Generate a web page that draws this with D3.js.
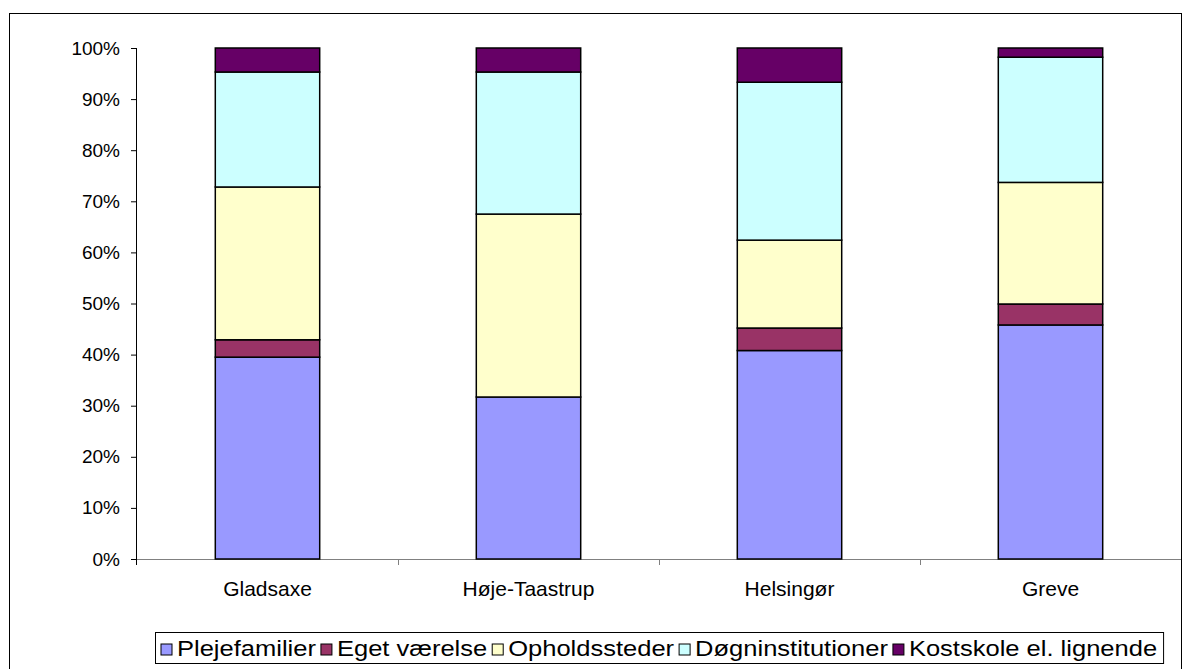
<!DOCTYPE html>
<html><head><meta charset="utf-8">
<script src="https://cdn.jsdelivr.net/npm/d3@7"></script>
<style>body{margin:0;background:#fff}svg{display:block}text{font-family:"Liberation Sans",Arial,sans-serif;fill:#000}</style>
</head><body><svg id="c" width="1184" height="669"></svg>
<script>
const categories = ["Gladsaxe","Høje-Taastrup","Helsingør","Greve"];
const seriesNames = ["Plejefamilier","Eget værelse","Opholdssteder","Døgninstitutioner","Kostskole el. lignende"];
const plejefamilier = [0.395,0.317,0.408,0.458];
const egetVaerelse = [0.034,0.000,0.044,0.041];
const opholdssteder = [0.299,0.358,0.172,0.238];
const doegninstitutioner = [0.225,0.278,0.309,0.245];
const kostskole = [0.047,0.047,0.067,0.018];
const seriesColors = ["#9999FF","#993366","#FFFFCC","#CCFFFF","#660066"];
const yTicks = [0,0.1,0.2,0.3,0.4,0.5,0.6,0.7,0.8,0.9,1.0];

const svg = d3.select("#c");
svg.append("rect").attr("x",9.5).attr("y",13.5).attr("width",1172).attr("height",700)
  .attr("fill","#fff").attr("stroke","#000").attr("stroke-width",1);

const x0=137, x1=1181, yTop=48, yBot=559;
const x = d3.scaleBand().domain(categories).range([x0,x1]).paddingInner(0.6).paddingOuter(0.3);
const y = d3.scaleLinear().domain([0,1]).range([yBot,yTop]);

const values = [plejefamilier, egetVaerelse, opholdssteder, doegninstitutioner, kostskole];
const rows = categories.map((c,i)=>{const r={cat:c}; seriesNames.forEach((s,j)=>r[s]=values[j][i]); return r;});
const stack = d3.stack().keys(seriesNames)(rows);

// y axis
const yAxis = d3.axisLeft(y).tickValues(yTicks).tickFormat(d3.format(".0%")).tickSize(6).tickPadding(11);
const ga = svg.append("g").attr("transform",`translate(${x0},0)`).call(yAxis);
ga.select(".domain").attr("stroke","#000").attr("d",`M-0.5,${yTop}V${yBot+6}`);
ga.selectAll(".tick line").attr("stroke","#000");
ga.selectAll("text").style("font-size","19px").attr("fill","#000");

// x axis
const xAxis = d3.axisBottom(x).tickSize(0).tickPadding(22);
const gx = svg.append("g").attr("transform",`translate(0,${yBot})`).call(xAxis);
gx.select(".domain").attr("stroke","#808080").attr("d",`M${x0},0.5H${x1}`);
gx.selectAll("text").style("font-size","21px").attr("fill","#000");
const step = x.step();
const bounds = categories.slice(1).map(c=>x(c) - x.paddingInner()*step/2);
gx.selectAll(".sep").data(bounds).enter().append("line").attr("class","sep")
  .attr("x1",d=>Math.round(d)+0.5).attr("x2",d=>Math.round(d)+0.5).attr("y1",0).attr("y2",6)
  .attr("stroke","#808080");

// bars
svg.append("g").selectAll("g").data(stack).enter().append("g")
  .attr("fill",(d,i)=>seriesColors[i])
  .selectAll("rect").data(d=>d).enter().append("rect")
  .attr("x",d=>x(d.data.cat)).attr("width",x.bandwidth())
  .attr("y",d=>y(d[1])).attr("height",d=>y(d[0])-y(d[1]))
  .attr("stroke","#000").attr("stroke-width",1.5);

// legend
const lg = svg.append("g");
const items = lg.selectAll("g").data(seriesNames).enter().append("g");
items.append("rect").attr("width",11).attr("height",11).attr("y",-12)
  .attr("fill",(d,i)=>seriesColors[i]).attr("stroke","#000").attr("stroke-width",1);
const sx = 1.16;
items.append("text").attr("transform",`translate(16,0) scale(${sx},1)`).style("font-size","22px").text(d=>d);
let cx=161;
items.each(function(){
  const g=d3.select(this); g.attr("transform",`translate(${cx},656)`);
  cx += 16 + g.select("text").node().getComputedTextLength()*sx + 5;
});
lg.insert("rect",":first-child").attr("x",155.5).attr("y",632.5).attr("width",cx-155+1).attr("height",31)
  .attr("fill","#fff").attr("stroke","#000");
</script></body></html>
